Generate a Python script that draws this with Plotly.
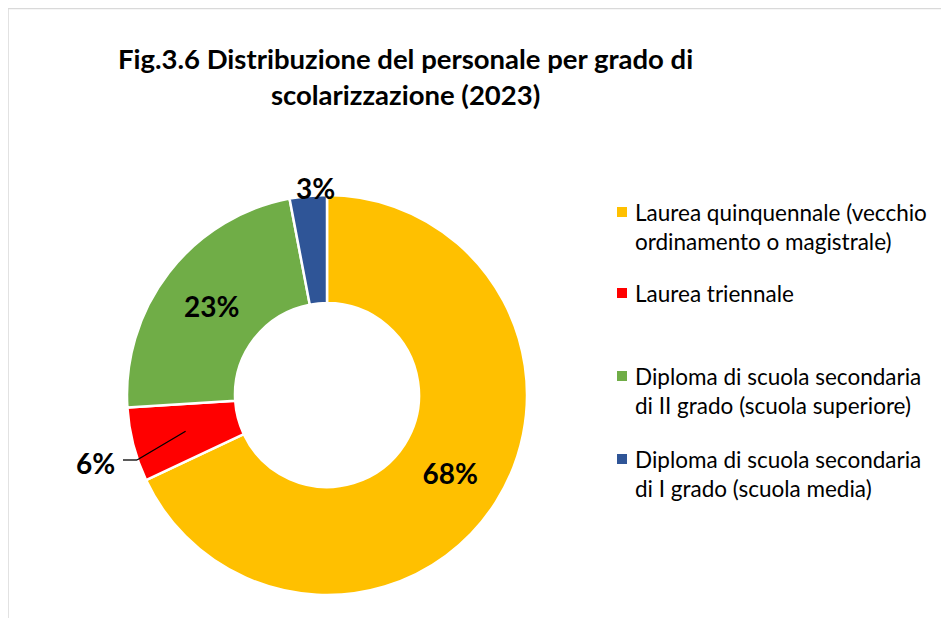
import math
import plotly.graph_objects as go

W, H = 949, 618
OFF = 8  # page body margin offset

# ---- data ----
categories = [
    "Laurea quinquennale (vecchio<br>ordinamento o magistrale)",
    "Laurea triennale",
    "Diploma di scuola secondaria<br>di II grado (scuola superiore)",
    "Diploma di scuola secondaria<br>di I grado (scuola media)",
]
values = [68, 6, 23, 3]
colors = ["#FFC000", "#FF0000", "#70AD47", "#2F5597"]
title_text = "Fig.3.6 Distribuzione del personale per grado di<br>scolarizzazione (2023)"

FONT = "Lato"
LABEL_SIZE = 28


def px(x):
    return (x - OFF) / W


def py(y):
    return 1 - (y - OFF) / H


# pie geometry (pixels, screen coords)
cx, cy, R = 327, 395, 200
hole = 0.46

total = sum(values)
pct = [v / total for v in values]
inside_text = [f"{p:.0%}" if p >= 0.1 else "" for p in pct]

fig = go.Figure()
fig.add_trace(go.Pie(
    labels=[c.replace("<br>", " ") for c in categories],
    values=values,
    sort=False,
    direction="clockwise",
    rotation=0,
    hole=hole,
    marker=dict(colors=colors, line=dict(color="white", width=2.5)),
    text=inside_text,
    textinfo="text",
    textposition="inside",
    insidetextorientation="horizontal",
    textfont=dict(family=FONT, size=LABEL_SIZE, color="black", weight="bold"),
    hoverinfo="label+percent",
    showlegend=False,
    domain=dict(x=[px(cx - R), px(cx + R)], y=[py(cy + R), py(cy - R)]),
))

annotations = []
shapes = []

cum = 0.0
mids = []
for p in pct:
    mids.append((cum + p / 2) * 2 * math.pi)
    cum += p

rmid = R * (1 + hole) / 2

# small slice: 6% (index 1) with leader line
i = 1
ex = cx + rmid * math.sin(mids[i])
ey = cy - rmid * math.cos(mids[i])
shapes.append(dict(type="line", xref="paper", yref="paper",
                   x0=px(123), y0=py(460), x1=px(137), y1=py(460),
                   line=dict(color="black", width=1.3)))
shapes.append(dict(type="line", xref="paper", yref="paper",
                   x0=px(137), y0=py(460), x1=px(ex), y1=py(ey),
                   line=dict(color="black", width=1.3)))
annotations.append(dict(x=px(95), y=py(463), xref="paper", yref="paper",
                        text=f"{pct[i]:.0%}", showarrow=False,
                        xanchor="center", yanchor="middle",
                        font=dict(family=FONT, size=LABEL_SIZE, color="black", weight="bold")))

# small slice: 3% (index 3) above the ring
i = 3
annotations.append(dict(x=px(315), y=py(188), xref="paper", yref="paper",
                        text=f"{pct[i]:.0%}", showarrow=False,
                        xanchor="center", yanchor="middle",
                        font=dict(family=FONT, size=LABEL_SIZE, color="black", weight="bold")))

# title
annotations.append(dict(x=px(405), y=py(40), xref="paper", yref="paper",
                        text=title_text, showarrow=False,
                        xanchor="center", yanchor="top", align="center",
                        font=dict(family=FONT, size=27.5, color="black", weight="bold")))

# manual legend
legend_y = [212, 293, 376, 459]
line_h = 29
for cat, col, y0 in zip(categories, colors, legend_y):
    shapes.append(dict(type="rect", xref="paper", yref="paper",
                       x0=px(617), x1=px(627), y0=py(y0 - 5), y1=py(y0 + 5),
                       fillcolor=col, line=dict(width=0)))
    for k, line in enumerate(cat.split("<br>")):
        annotations.append(dict(x=px(633), y=py(y0 + k * line_h), xref="paper", yref="paper",
                                text=line, showarrow=False,
                                xanchor="left", yanchor="middle",
                                font=dict(family=FONT, size=22.5, color="black")))

# chart-area border (top and left visible)
shapes.append(dict(type="line", xref="paper", yref="paper",
                   x0=px(8), y0=py(8.5), x1=1.0, y1=py(8.5),
                   line=dict(color="#D9D9D9", width=1.5)))
shapes.append(dict(type="line", xref="paper", yref="paper",
                   x0=px(8), y0=py(8.5), x1=px(8), y1=0,
                   line=dict(color="#D9D9D9", width=1.5)))

fig.update_layout(
    width=W, height=H,
    margin=dict(l=0, r=0, t=0, b=0),
    paper_bgcolor="white",
    plot_bgcolor="white",
    annotations=annotations,
    shapes=shapes,
    showlegend=False,
)

fig.write_html("out.html")
